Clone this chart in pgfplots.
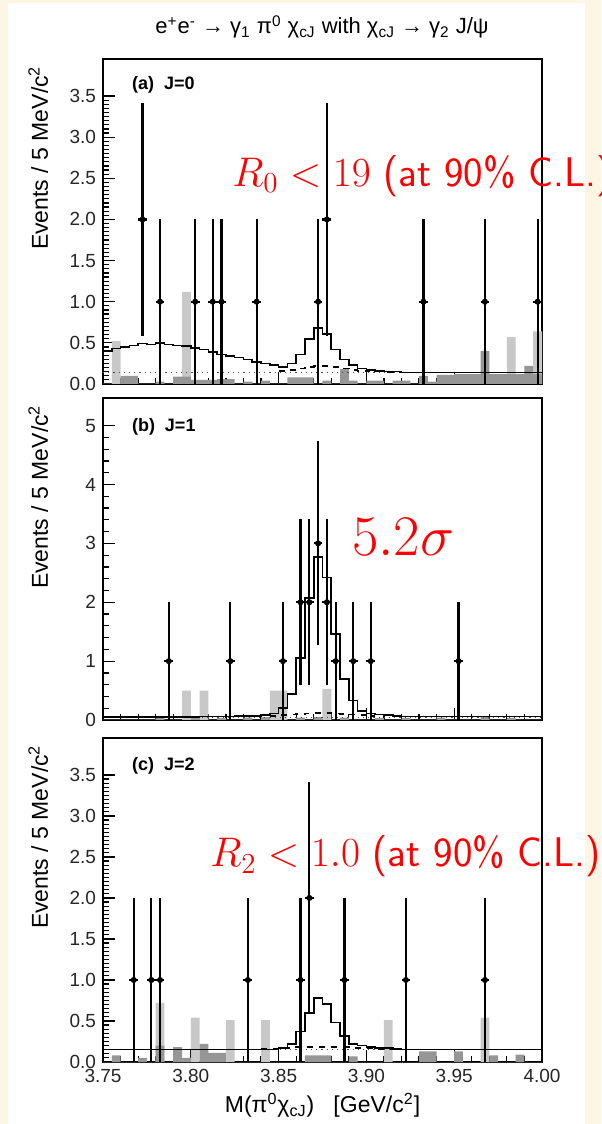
\RequirePackage{fix-cm}
\documentclass[border=0pt]{standalone}
\usepackage{fontspec}
\usepackage{pgfplots}
\usepackage{pgfplotstable}
\pgfplotsset{compat=1.18}
\newfontfamily\helv{Liberation Sans}
\definecolor{cream}{RGB}{253,246,228}
\definecolor{lgray}{RGB}{200,200,200}
\definecolor{dgray}{RGB}{150,150,150}
\newcommand\tickfont{\helv\fontsize{9.5}{11}\selectfont}
\newcommand\labfont{\helv\fontsize{11.5}{13}\selectfont}

% bin left edges, last row repeats bin 49
% x solid dash light dark
\pgfplotstableread{
x     solid dash light dark
3.750 0.40 0    0    0
3.755 0.43 0    0.52 0
3.760 0.45 0    0    0.10
3.765 0.47 0    0    0.10
3.770 0.49 0    0    0
3.775 0.48 0    0    0
3.780 0.50 0    0    0.03
3.785 0.48 0    0    0
3.790 0.47 0    0    0.09
3.795 0.46 0    1.12 0.09
3.800 0.44 0    0    0.05
3.805 0.42 0    0    0.05
3.810 0.39 0    0    0.05
3.815 0.36 0    0    0.06
3.820 0.34 0    0    0.06
3.825 0.32 0    0    0
3.830 0.30 0    0    0.03
3.835 0.27 0    0    0
3.840 0.25 0    0    0.04
3.845 0.23 0    0    0
3.850 0.21 0.16 0    0
3.855 0.25 0.17 0    0.08
3.860 0.36 0.19 0    0.08
3.865 0.55 0.21 0    0.08
3.870 0.68 0.22 0    0
3.875 0.61 0.22 0    0.04
3.880 0.42 0.21 0    0
3.885 0.30 0.19 0    0.18
3.890 0.23 0.17 0    0.04
3.895 0.19 0.16 0    0
3.900 0.17 0.15 0    0.04
3.905 0.16 0.15 0    0.04
3.910 0.15 0.14 0    0
3.915 0.15 0.14 0    0.04
3.920 0.14 0.14 0    0.04
3.925 0.14 0    0    0
3.930 0.14 0    0    0.10
3.935 0.14 0    0    0.03
3.940 0.14 0    0    0.11
3.945 0.14 0    0    0.11
3.950 0.14 0    0    0.12
3.955 0.14 0    0    0.12
3.960 0.14 0    0    0.12
3.965 0.14 0    0    0.40
3.970 0.14 0    0    0.12
3.975 0.14 0    0    0.12
3.980 0.14 0    0.57 0.12
3.985 0.14 0    0    0.12
3.990 0.14 0    0    0.22
3.995 0.14 0    0.64 0.12
4.000 0.14 0    0.64 0.12
}\hista

\pgfplotstableread{
x     solid dash light dark
3.750 0.05 0    0    0
3.755 0.05 0    0    0
3.760 0.05 0    0    0
3.765 0.05 0    0    0
3.770 0.05 0    0    0
3.775 0.05 0    0    0
3.780 0.05 0    0    0.03
3.785 0.05 0    0    0
3.790 0.05 0    0    0
3.795 0.05 0    0.50 0
3.800 0.05 0    0    0.04
3.805 0.06 0    0.50 0
3.810 0.06 0    0    0
3.815 0.06 0    0    0.03
3.820 0.06 0    0    0
3.825 0.07 0    0    0
3.830 0.07 0    0    0.04
3.835 0.07 0    0    0
3.840 0.08 0    0    0.05
3.845 0.11 0.07 0.50 0
3.850 0.20 0.08 0.50 0
3.855 0.44 0.09 0    0
3.860 1.05 0.10 0    0.04
3.865 2.07 0.11 0    0
3.870 2.77 0.12 0    0.05
3.875 2.42 0.12 0.53 0
3.880 1.46 0.11 0    0
3.885 0.70 0.10 0    0.04
3.890 0.33 0.09 0    0
3.895 0.15 0.08 0    0
3.900 0.11 0.07 0    0
3.905 0.09 0.07 0    0.03
3.910 0.08 0    0    0
3.915 0.07 0    0    0
3.920 0.06 0    0    0.03
3.925 0.06 0    0    0
3.930 0.06 0    0    0
3.935 0.06 0    0    0
3.940 0.06 0    0    0.04
3.945 0.06 0    0    0
3.950 0.06 0    0    0
3.955 0.06 0    0    0
3.960 0.06 0    0    0
3.965 0.06 0    0    0.06
3.970 0.06 0    0    0
3.975 0.06 0    0    0
3.980 0.06 0    0    0.03
3.985 0.06 0    0    0
3.990 0.06 0    0    0
3.995 0.06 0    0    0
4.000 0.06 0    0    0
}\histb

\pgfplotstableread{
x     solid dash light dark
3.750 0.15 0    0    0
3.755 0.15 0    0    0.08
3.760 0.15 0    0    0
3.765 0.15 0    0    0
3.770 0.15 0    0    0.05
3.775 0.15 0    0    0
3.780 0.15 0    0.72 0.20
3.785 0.15 0    0    0
3.790 0.15 0    0    0.18
3.795 0.15 0    0    0.05
3.800 0.15 0    0.54 0
3.805 0.15 0    0    0.22
3.810 0.15 0    0    0.11
3.815 0.15 0    0    0.11
3.820 0.15 0    0.51 0
3.825 0.15 0    0    0
3.830 0.15 0    0    0
3.835 0.15 0    0    0
3.840 0.15 0.16 0.51 0
3.845 0.15 0.16 0    0
3.850 0.17 0.17 0    0
3.855 0.22 0.17 0    0
3.860 0.37 0.18 0    0
3.865 0.60 0.18 0    0.08
3.870 0.78 0.18 0    0.08
3.875 0.71 0.18 0    0.08
3.880 0.48 0.18 0    0
3.885 0.32 0.18 0    0
3.890 0.22 0.17 0    0.07
3.895 0.20 0.17 0    0
3.900 0.18 0.17 0    0
3.905 0.17 0.16 0    0
3.910 0.17 0.16 0.51 0
3.915 0.16 0.16 0    0
3.920 0.15 0.16 0    0
3.925 0.15 0    0    0
3.930 0.15 0    0    0.13
3.935 0.15 0    0    0.13
3.940 0.15 0    0    0
3.945 0.15 0    0    0
3.950 0.15 0    0    0.13
3.955 0.15 0    0    0
3.960 0.15 0    0    0
3.965 0.15 0    0.54 0
3.970 0.15 0    0    0.08
3.975 0.15 0    0    0
3.980 0.15 0    0    0
3.985 0.15 0    0    0.09
3.990 0.15 0    0    0
3.995 0.15 0    0    0
4.000 0.15 0    0    0
}\histc

% data points: bin centre, events, sqrt(N) error
\pgfplotstableread{
x      y  ey
3.7725 2  1.414
3.7825 1  1
3.8025 1  1
3.8125 1  1
3.8175 1  1
3.8375 1  1
3.8725 1  1
3.8775 2  1.414
3.9325 1  1
3.9675 1  1
3.9975 1  1
}\dataa

\pgfplotstableread{
x      y  ey
3.7875 1  1
3.8225 1  1
3.8525 1  1
3.8625 2  1.414
3.8675 2  1.414
3.8725 3  1.732
3.8775 2  1.414
3.8825 1  1
3.8925 1  1
3.9025 1  1
3.9525 1  1
}\datab

\pgfplotstableread{
x      y  ey
3.7675 1  1
3.7775 1  1
3.7825 1  1
3.8325 1  1
3.8625 1  1
3.8675 2  1.414
3.8875 1  1
3.9225 1  1
3.9675 1  1
}\datac

\pgfplotsset{
  rootax/.style={
    scale only axis, width=219.5pt,
    xmin=3.75, xmax=4.0, ymin=0,
    axis line style={line width=0.9pt},
    tick align=inside, xtick pos=left, ytick pos=left,
    major tick length=6pt, minor tick length=3pt,
    every tick/.append style={black, line width=0.6pt},
    xtick={3.75,3.80,3.85,3.90,3.95,4.00}, minor x tick num=4,
    ticklabel style={font=\tickfont, text=black!85},
    /pgf/number format/assume math mode=true,
    x tick label style={/pgf/number format/.cd, fixed, fixed zerofill, precision=2},
    ylabel={Events / 5 MeV/c\textsuperscript{2}},
    ylabel style={font=\labfont, at={(axis description cs:-0.1253,1)}, anchor=base east},
  },
  histfill/.style={draw=none, const plot, forget plot},
  histline/.style={black, line width=0.8pt, const plot},
  pts/.style={black, only marks, mark=*, mark size=1.3pt,
    error bars/.cd, y dir=both, y explicit, x dir=both, x fixed=0.0025,
    error mark=none, error bar style={line width=1.1pt}},
}

\begin{document}
\begin{tikzpicture}
\useasboundingbox (0,0) rectangle (300.5pt,562pt);
\fill[cream] (0,0) rectangle (300.5pt,562pt);
\fill[white] (4pt,0) rectangle (292.5pt,560.5pt);

\node[anchor=base, font=\helv\fontsize{11}{13}\selectfont] at (161pt,545pt)
  {e\textsuperscript{+}e\textsuperscript{-} → γ\textsubscript{1} π\textsuperscript{0} χ\textsubscript{cJ} with χ\textsubscript{cJ} → γ\textsubscript{2} J/ψ};

% (a) J=0
\begin{axis}[rootax, at={(51.5pt,370pt)}, anchor=south west, height=162.5pt,
  ymax=3.95, ytick={0,0.5,1,1.5,2,2.5,3,3.5}, minor y tick num=9,
  xticklabels={},
  y tick label style={/pgf/number format/.cd, fixed, fixed zerofill, precision=1}]
\addplot[histfill, fill=lgray] table[x=x, y=light] {\hista} \closedcycle;
\addplot[histfill, fill=dgray] table[x=x, y=dark] {\hista} \closedcycle;
\addplot[black!70, line width=0.6pt, dotted] coordinates {(3.75,0.135) (4.0,0.135)};
\addplot[histline, dashed, restrict x to domain=3.849:3.921] table[x=x, y=dash] {\hista};
\addplot[histline] table[x=x, y=solid] {\hista};
\addplot[pts] table[x=x, y=y, y error=ey] {\dataa};
\node[anchor=base west, font=\helv\bfseries\fontsize{9}{11}\selectfont] at (rel axis cs:0.05,0.905) {(a)\ \ J=0};
\end{axis}

% (b) J=1
\begin{axis}[rootax, at={(51.5pt,202pt)}, anchor=south west, height=161pt,
  ymax=5.47, ytick={0,1,2,3,4,5}, minor y tick num=4,
  xticklabels={}]
\addplot[histfill, fill=lgray] table[x=x, y=light] {\histb} \closedcycle;
\addplot[histfill, fill=dgray] table[x=x, y=dark] {\histb} \closedcycle;
\addplot[black!70, line width=0.6pt, dotted] coordinates {(3.75,0.04) (4.0,0.04)};
\addplot[histline, dashed, restrict x to domain=3.844:3.906] table[x=x, y=dash] {\histb};
\addplot[histline] table[x=x, y=solid] {\histb};
\addplot[pts] table[x=x, y=y, y error=ey] {\datab};
\node[anchor=base west, font=\helv\bfseries\fontsize{9}{11}\selectfont] at (rel axis cs:0.05,0.895) {(b)\ \ J=1};
\end{axis}

% (c) J=2
\begin{axis}[rootax, at={(51.5pt,31pt)}, anchor=south west, height=162pt,
  ymax=3.95, ytick={0,0.5,1,1.5,2,2.5,3,3.5}, minor y tick num=9,
  y tick label style={/pgf/number format/.cd, fixed, fixed zerofill, precision=1},
  xlabel={M(π\textsuperscript{0}χ\textsubscript{cJ})\ \ \ [GeV/c\textsuperscript{2}]},
  xlabel style={font=\labfont, at={(axis description cs:0.5,-0.157)}, anchor=base}]
\addplot[histfill, fill=lgray] table[x=x, y=light] {\histc} \closedcycle;
\addplot[histfill, fill=dgray] table[x=x, y=dark] {\histc} \closedcycle;
\addplot[black!70, line width=0.6pt, dotted] coordinates {(3.75,0.15) (4.0,0.15)};
\addplot[histline, dashed, restrict x to domain=3.839:3.921] table[x=x, y=dash] {\histc};
\addplot[histline] table[x=x, y=solid] {\histc};
\addplot[pts] table[x=x, y=y, y error=ey] {\datac};
\node[anchor=base west, font=\helv\bfseries\fontsize{9}{11}\selectfont] at (rel axis cs:0.05,0.90) {(c)\ \ J=2};
\end{axis}

% red annotations
\node[anchor=base west, inner sep=0, text=red, font=\fontsize{20.7}{24}\selectfont] at (116pt,468.6pt) {$R_0<19$ \textsf{(at 90\% C.L.)}};
\node[anchor=base west, inner sep=0, text=red, font=\fontsize{28.7}{34}\selectfont] at (175.8pt,284.2pt) {$5.2\sigma$};
\node[anchor=base west, inner sep=0, text=red, font=\fontsize{20.7}{24}\selectfont] at (105pt,128.6pt) {$R_2<1.0$ \textsf{(at 90\% C.L.)}};
\end{tikzpicture}
\end{document}
